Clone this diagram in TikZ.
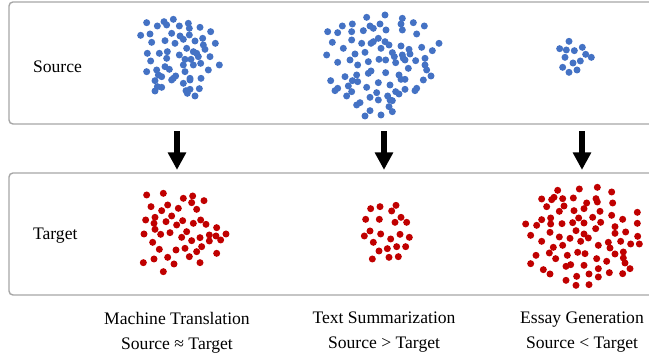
\documentclass[tikz,border=0pt]{standalone}
\usepackage{fontspec}
\setmainfont{Liberation Serif}
\usepackage{tikz}
\usetikzlibrary{arrows.meta}
\definecolor{srcblue}{HTML}{4472C4}
\definecolor{tgtred}{HTML}{C00000}
\definecolor{panelgray}{HTML}{A6A6A6}
\newcommand\dotcloud[4]{% x, y, dots, style
  \begin{scope}[shift={(#1,#2)},scale=1/3]
    \foreach \px/\py in #3 {\fill[#4] (\px,\py) circle[radius=10.5];}
  \end{scope}
}

\begin{document}
\begin{tikzpicture}[x=0.5pt,y=-0.5pt]
		\tikzstyle{PanelSty}=[draw=panelgray,line width=0.7pt,rounded corners=2pt,
								  minimum width=325.5pt,minimum height=61pt]
		\tikzstyle{NameSty}=[font=\fontsize{8.8}{10.5}\selectfont,anchor=west]
		\tikzstyle{TaskSty}=[font=\fontsize{8.8}{12.5}\selectfont,align=center]
		\tikzstyle{ArrSty}=[-{Triangle[width=8.8pt,length=8.8pt]},line width=3pt,
								  shorten <=3.3pt,shorten >=1.2pt]
		\tikzstyle{SrcSty}=[fill=srcblue]
		\tikzstyle{TgtSty}=[fill=tgtred]

\useasboundingbox (0,0) rectangle (649,356);

% dots, in 3x crop coordinates
\def\DotsSrcA{50/38,82/48,102/35,110/45,130/28,148/48,175/40,178/55,210/52,242/65,
32/76,60/72,125/70,150/78,160/88,178/75,195/93,218/85,220/105,65/97,105/92,135/100,
170/115,190/125,200/130,225/118,240/140,256/100,52/130,88/130,112/125,148/135,
165/148,183/148,205/140,62/153,110/145,190/165,212/160,235/180,268/165,105/170,
118/178,160/165,165/185,50/185,80/180,85/195,95/200,130/205,137/198,180/205,213/205,
75/212,82/230,125/210,160/220,180/210,95/232,75/243,168/242,180/238,208/236,172/250,195/258}
\def\DotsSrcB{155/22,210/15,262/25,258/42,295/38,328/48,82/48,112/42,110/65,165/48,
175/55,195/42,213/60,262/60,305/72,38/65,68/68,145/62,52/97,110/90,140/100,168/100,
175/95,190/85,210/95,222/105,258/108,282/118,320/112,372/100,352/122,35/135,85/115,
120/132,150/127,198/115,232/128,262/135,285/132,242/158,270/150,302/152,330/145,
68/157,105/150,128/165,160/155,192/148,212/150,238/140,265/145,330/165,335/180,
348/198,160/190,168/183,212/188,252/195,280/175,325/210,47/212,90/200,112/212,
125/195,100/228,128/215,190/218,225/225,258/208,270/208,60/242,68/235,95/258,
110/245,155/232,185/248,218/258,242/245,252/252,270/238,300/242,305/235,125/285,
135/278,165/262,190/270,225/270,232/272,150/318,165/302,198/315,222/290,232/305}
\def\DotsSrcC{36/4,8/26,28/30,52/32,76/22,86/43,103/52,24/52,48/69,70/63,17/82,36/97,60/90}
\def\DotsTgtA{50/45,100/40,160/55,188/48,185/68,222/62,63/80,95/92,113/75,145/85,
200/88,47/120,75/112,72/130,108/125,125/108,140/135,158/122,190/130,212/120,228/133,
260/143,42/162,75/148,92/163,120/158,155/172,170/155,185/182,210/173,238/165,
238/183,258/168,272/180,288/162,68/187,88/208,138/210,165/205,200/215,215/200,
260/220,40/248,72/237,113/232,132/252,178/230,210/248,100/275}
\def\DotsTgtB{32/86,60/80,108/76,95/93,17/118,58/118,105/127,123/112,140/127,
30/153,13/168,62/162,92/177,120/163,148/172,40/187,110/200,137/200,57/213,
82/206,37/237,87/232,115/230}
\def\DotsTgtC{143/37,208/33,262/28,305/42,95/63,125/65,132/58,158/62,190/60,258/62,
262/72,308/75,110/86,162/84,230/75,222/92,148/100,192/98,270/100,305/112,382/103,
47/138,80/142,95/125,122/120,122/138,156/137,188/134,206/120,222/135,248/118,
272/133,338/124,382/136,62/172,120/163,148/177,180/181,198/158,222/168,235/180,
257/152,315/146,315/166,347/162,383/175,95/190,130/208,158/202,212/190,265/202,
295/193,300/210,332/190,362/198,388/198,78/232,118/225,137/242,172/232,203/223,
225/227,260/242,290/250,315/228,340/222,340/240,345/255,62/257,100/275,120/288,
168/265,182/260,222/262,265/272,298/284,338/287,360/272,168/307,200/295,198/322,
237/288,237/320,265/297}

\node[PanelSty] at (334.5,63) (src_panel) {};
\node[PanelSty] at (334.5,234) (tgt_panel) {};

\node[NameSty] at (26,67) (src_name) {Source};
\node[NameSty] at (26,236) (tgt_name) {Target};

\node[TaskSty] at (177,332.5) (mt_task) {Machine Translation\\Source ≈ Target};
\node[TaskSty] at (384,332.5) (ts_task) {Text Summarization\\Source > Target};
\node[TaskSty] at (582,332.5) (eg_task) {Essay Generation\\Source < Target};

\foreach \task in {mt_task,ts_task,eg_task}
{
  \draw[ArrSty] (src_panel.south -| \task.north) -- (tgt_panel.north -| \task.north);
}

\dotcloud{130}{10}{\DotsSrcA}{SrcSty}
\dotcloud{315}{10}{\DotsSrcB}{SrcSty}
\dotcloud{557}{40}{\DotsSrcC}{SrcSty}
\dotcloud{130}{180}{\DotsTgtA}{TgtSty}
\dotcloud{360}{180}{\DotsTgtB}{TgtSty}
\dotcloud{510}{178}{\DotsTgtC}{TgtSty}

\end{tikzpicture}
\end{document}
